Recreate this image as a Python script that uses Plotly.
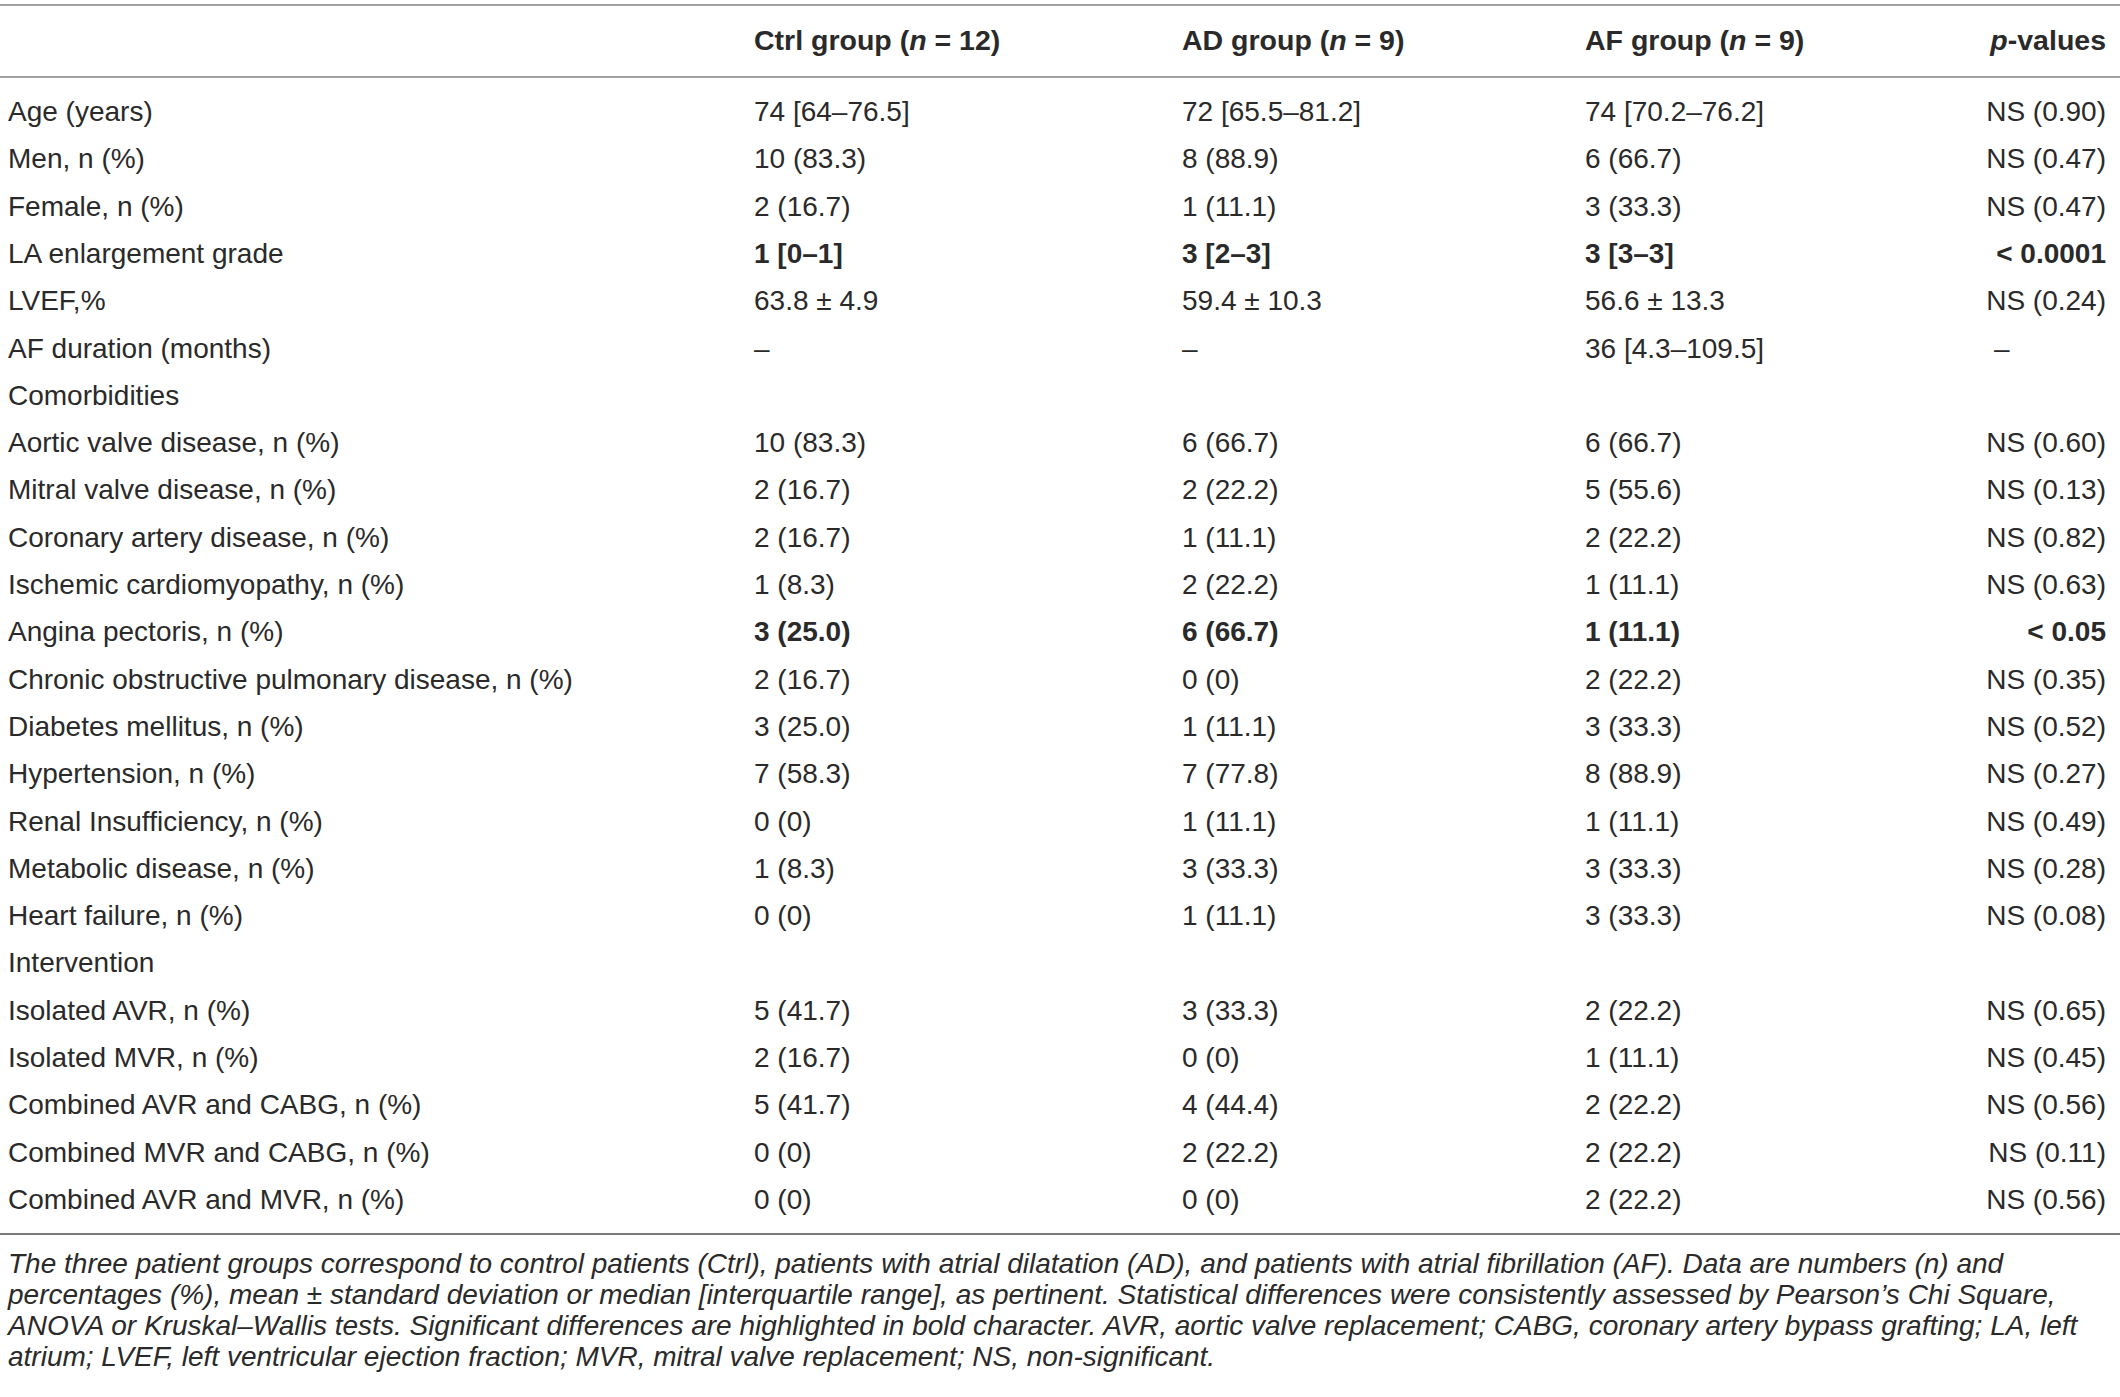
import plotly.graph_objects as go

# ---------------- data ----------------
headers = ["", "Ctrl group (<i>n</i> = 12)", "AD group (<i>n</i> = 9)", "AF group (<i>n</i> = 9)", "<i>p</i>-values"]

labels = ["Age (years)", "Men, n (%)", "Female, n (%)", "LA enlargement grade", "LVEF,%",
          "AF duration (months)", "Comorbidities", "Aortic valve disease, n (%)",
          "Mitral valve disease, n (%)", "Coronary artery disease, n (%)",
          "Ischemic cardiomyopathy, n (%)", "Angina pectoris, n (%)",
          "Chronic obstructive pulmonary disease, n (%)", "Diabetes mellitus, n (%)",
          "Hypertension, n (%)", "Renal Insufficiency, n (%)", "Metabolic disease, n (%)",
          "Heart failure, n (%)", "Intervention", "Isolated AVR, n (%)", "Isolated MVR, n (%)",
          "Combined AVR and CABG, n (%)", "Combined MVR and CABG, n (%)",
          "Combined AVR and MVR, n (%)"]

ctrl = ["74 [64–76.5]", "10 (83.3)", "2 (16.7)", "1 [0–1]", "63.8 ± 4.9", "–", "",
        "10 (83.3)", "2 (16.7)", "2 (16.7)", "1 (8.3)", "3 (25.0)", "2 (16.7)", "3 (25.0)",
        "7 (58.3)", "0 (0)", "1 (8.3)", "0 (0)", "", "5 (41.7)", "2 (16.7)", "5 (41.7)",
        "0 (0)", "0 (0)"]

ad = ["72 [65.5–81.2]", "8 (88.9)", "1 (11.1)", "3 [2–3]", "59.4 ± 10.3", "–", "",
      "6 (66.7)", "2 (22.2)", "1 (11.1)", "2 (22.2)", "6 (66.7)", "0 (0)", "1 (11.1)",
      "7 (77.8)", "1 (11.1)", "3 (33.3)", "1 (11.1)", "", "3 (33.3)", "0 (0)", "4 (44.4)",
      "2 (22.2)", "0 (0)"]

af = ["74 [70.2–76.2]", "6 (66.7)", "3 (33.3)", "3 [3–3]", "56.6 ± 13.3", "36 [4.3–109.5]", "",
      "6 (66.7)", "5 (55.6)", "2 (22.2)", "1 (11.1)", "1 (11.1)", "2 (22.2)", "3 (33.3)",
      "8 (88.9)", "1 (11.1)", "3 (33.3)", "3 (33.3)", "", "2 (22.2)", "1 (11.1)", "2 (22.2)",
      "2 (22.2)", "2 (22.2)"]

pvals = ["NS (0.90)", "NS (0.47)", "NS (0.47)", "< 0.0001", "NS (0.24)", "–", "",
         "NS (0.60)", "NS (0.13)", "NS (0.82)", "NS (0.63)", "< 0.05", "NS (0.35)",
         "NS (0.52)", "NS (0.27)", "NS (0.49)", "NS (0.28)", "NS (0.08)", "", "NS (0.65)",
         "NS (0.45)", "NS (0.56)", "NS (0.11)", "NS (0.56)"]

significant = [False, False, False, True, False, False, False, False, False, False, False,
               True, False, False, False, False, False, False, False, False, False, False,
               False, False]

footnote = [
    "The three patient groups correspond to control patients (Ctrl), patients with atrial dilatation (AD), and patients with atrial fibrillation (AF). Data are numbers (n) and",
    "percentages (%), mean ± standard deviation or median [interquartile range], as pertinent. Statistical differences were consistently assessed by Pearson’s Chi Square,",
    "ANOVA or Kruskal–Wallis tests. Significant differences are highlighted in bold character. AVR, aortic valve replacement; CABG, coronary artery bypass grafting; LA, left",
    "atrium; LVEF, left ventricular ejection fraction; MVR, mitral valve replacement; NS, non-significant.",
]

# ---------------- layout constants ----------------
W, H = 2120, 1397
FONT = "Liberation Sans, Arial, sans-serif"
TXT = "#2a2a2a"
BODY = 28
HEAD = 28.5
FOOT = 28
X_LABEL = 8
X_CTRL, X_AD, X_AF = 754, 1182, 1585
X_P_RIGHT = 2106
X_P_DASH = 1994
Y_HEAD = 43
Y_ROW0 = 114
ROW_STEP = 47.3
Y_FOOT0 = 1266
FOOT_STEP = 31
LINES = [(5, "#a0a0a0"), (77, "#a0a0a0"), (1234, "#7a7a7a")]

row_y = [Y_ROW0 + i * ROW_STEP for i in range(len(labels))]


def fmt(vals):
    return [f"<b>{v}</b>" if s and v else v for v, s in zip(vals, significant)]


fig = go.Figure()


def add_text(xs, ys, texts, pos, size=BODY):
    fig.add_trace(go.Scatter(
        x=xs, y=ys, text=texts, mode="text", textposition=pos,
        textfont=dict(family=FONT, size=size, color=TXT),
        hoverinfo="skip", showlegend=False, cliponaxis=False))


# header
add_text([X_CTRL, X_AD, X_AF], [Y_HEAD] * 3, [f"<b>{h}</b>" for h in headers[1:4]], "middle right", HEAD)
add_text([X_P_RIGHT], [Y_HEAD], [f"<b>{headers[4]}</b>"], "middle left", HEAD)

# body
add_text([X_LABEL] * len(labels), row_y, labels, "middle right")
for xc, vals in [(X_CTRL, ctrl), (X_AD, ad), (X_AF, af)]:
    add_text([xc] * len(vals), row_y, fmt(vals), "middle right")

p_fmt = fmt(pvals)
px_right = [y for y, v in zip(row_y, pvals) if v != "–"]
pt_right = [t for t, v in zip(p_fmt, pvals) if v != "–"]
add_text([X_P_RIGHT] * len(px_right), px_right, pt_right, "middle left")
py_dash = [y for y, v in zip(row_y, pvals) if v == "–"]
add_text([X_P_DASH] * len(py_dash), py_dash, ["–"] * len(py_dash), "middle right")

# footnote
add_text([X_LABEL] * len(footnote), [Y_FOOT0 + i * FOOT_STEP for i in range(len(footnote))],
         [f"<i>{t}</i>" for t in footnote], "middle right", size=FOOT)

for y, c in LINES:
    fig.add_shape(type="line", x0=0, x1=W, y0=y, y1=y, xref="x", yref="y",
                  line=dict(color=c, width=2))

fig.update_layout(
    width=W, height=H, margin=dict(l=0, r=0, t=0, b=0),
    paper_bgcolor="white", plot_bgcolor="white",
    xaxis=dict(range=[0, W], visible=False, fixedrange=True),
    yaxis=dict(range=[H, 0], visible=False, fixedrange=True),
)

fig.write_html("out.html",
               config={"displayModeBar": False},
               post_script="document.body.style.margin='0';document.body.style.overflow='hidden';")
